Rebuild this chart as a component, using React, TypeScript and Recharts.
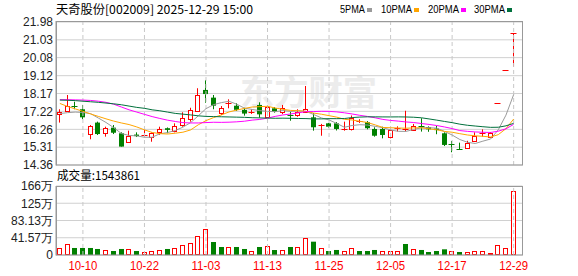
import { ComposedChart, Bar, Line, XAxis, YAxis, CartesianGrid, ReferenceLine } from 'recharts'

const dates = [
  '09-29', '09-30', '10-09', '10-10', '10-13', '10-14', '10-15', '10-16', '10-17', '10-20',
  '10-21', '10-22', '10-23', '10-24', '10-27', '10-28', '10-29', '10-30', '10-31', '11-03',
  '11-04', '11-05', '11-06', '11-07', '11-10', '11-11', '11-12', '11-13', '11-14', '11-17',
  '11-18', '11-19', '11-20', '11-21', '11-24', '11-25', '11-26', '11-27', '11-28', '12-01',
  '12-02', '12-03', '12-04', '12-05', '12-08', '12-09', '12-10', '12-11', '12-12', '12-15',
  '12-16', '12-17', '12-18', '12-19', '12-22', '12-23', '12-24', '12-25', '12-26', '12-29',
]

const opens = [
  17.06, 17.25, 17.52, 17.33, 16.01, 16.62, 16.05, 16.35, 16.05, 15.6,
  15.98, 15.9, 15.87, 16.11, 16.32, 16.19, 16.47, 16.8, 17.24, 18.36,
  17.95, 17.12, 17.62, 17.52, 17.3, 17.14, 17.56, 16.94, 17.38, 17.17,
  17.0, 17.03, 17.2, 16.9, 16.48, 16.58, 16.58, 16.26, 16.28, 16.66,
  16.64, 16.28, 16.28, 15.87, 16.3, 16.28, 16.25, 16.45, 16.38, 16.3,
  16.05, 15.5, 15.2, 15.25, 15.66, 16.0, 15.87, 17.66, 19.43, 21.37,
]
const highs = [
  17.33, 18.09, 17.73, 17.56, 16.49, 16.67, 16.4, 16.49, 16.1, 16.19,
  16.1, 16.23, 16.1, 16.4, 16.36, 16.58, 17.17, 17.41, 18.45, 18.89,
  18.09, 17.5, 17.86, 17.65, 17.41, 17.33, 17.7, 17.52, 17.45, 17.56,
  17.2, 17.33, 18.57, 17.12, 16.55, 16.6, 16.65, 16.67, 17.0, 16.8,
  16.7, 16.37, 16.4, 16.33, 16.42, 17.25, 16.55, 16.85, 16.42, 16.45,
  16.1, 15.64, 15.55, 15.65, 16.1, 16.26, 16.12, 17.66, 19.43, 21.37,
]
const lows = [
  16.62, 17.2, 17.33, 16.8, 15.73, 15.96, 15.87, 16.01, 15.34, 15.6,
  15.85, 15.84, 15.6, 15.97, 16.05, 16.1, 16.4, 16.67, 17.24, 17.68,
  17.33, 17.02, 17.38, 17.24, 16.99, 17.08, 16.88, 16.88, 17.15, 17.07,
  16.72, 16.93, 17.2, 16.19, 15.92, 16.35, 16.2, 16.19, 16.2, 16.6,
  16.26, 15.87, 15.78, 15.78, 16.15, 16.15, 16.2, 16.14, 16.13, 16.0,
  15.37, 15.04, 15.2, 15.25, 15.66, 15.87, 15.85, 17.66, 19.43, 19.6,
]
const closes = [
  17.17, 17.5, 17.47, 16.9, 16.44, 16.01, 16.32, 16.08, 15.34, 15.92,
  15.9, 15.95, 16.08, 16.28, 16.23, 16.44, 16.85, 17.29, 18.09, 18.14,
  17.52, 17.38, 17.65, 17.3, 17.1, 17.17, 17.06, 17.47, 17.2, 17.41,
  16.95, 17.2, 17.33, 16.37, 16.5, 16.4, 16.28, 16.3, 16.85, 16.7,
  16.32, 15.92, 15.96, 16.23, 16.34, 16.3, 16.44, 16.4, 16.26, 16.22,
  15.43, 15.48, 15.2, 15.52, 15.9, 16.05, 16.05, 17.66, 19.43, 21.37,
]
// 成交量, 万股
const volumes = [
  16.9, 25.8, 16.9, 16.9, 16.9, 14.5, 11.3, 9.6, 14.5, 13.3,
  9.6, 6.4, 9.6, 11.3, 14.5, 16.0, 23.3, 28.9, 45.8, 61.9,
  31.3, 19.3, 18.5, 19.3, 14.5, 9.6, 19.3, 20.9, 12.0, 11.3,
  19.3, 19.3, 40.2, 32.1, 16.1, 9.6, 12.1, 8.8, 16.1, 9.6,
  9.6, 12.1, 8.8, 8.8, 8.8, 26.5, 13.7, 12.1, 7.2, 9.6,
  13.7, 8.8, 7.2, 6.4, 8.8, 8.8, 4.8, 23.3, 16.1, 154.3861,
]

// MA values for the first days, whose history is off screen
const ma5Head = [17.1, 17.15, 17.18, 17.16]
const ma10Head = [17.64, 17.48, 17.35, 17.22, 17.08, 16.95, 16.82, 16.7, 16.6]
const ma20Head = [
  17.84, 17.84, 17.83, 17.82, 17.8, 17.76, 17.7, 17.6, 17.45, 17.3,
  17.18, 17.06, 16.94, 16.84, 16.75, 16.68, 16.62, 16.6, 16.6,
]
const ma30Head = [
  17.82, 17.81, 17.79, 17.76, 17.73, 17.7, 17.66, 17.62, 17.57, 17.5,
  17.43, 17.38, 17.3, 17.25, 17.18, 17.11, 17.07, 17.03, 16.98, 16.95,
  16.94, 16.93, 16.92, 16.91, 16.9, 16.88, 16.87, 16.86, 16.85,
]

const labelDates = ['10-10', '10-22', '11-03', '11-13', '11-25', '12-05', '12-17', '12-29']
const priceTicks = [14.36, 15.31, 16.26, 17.22, 18.17, 19.12, 20.08, 21.03, 21.98]
const volTicks = [0, 41.57, 83.13, 124.7, 166.26]
const volTickLabels = ['0', '41.57万', '83.13万', '125万', '166万']

const RED = '#ff0000'
const GREEN = '#008000'
const MA_LINES = [
  { key: 'ma5', name: '5PMA', color: '#9a9a9a' },
  { key: 'ma10', name: '10PMA', color: '#ffa500' },
  { key: 'ma20', name: '20PMA', color: '#ff00ff' },
  { key: 'ma30', name: '30PMA', color: '#00703c' },
]

function movingAverage(n: number, head: number[]) {
  return closes.map((_, i) => {
    if (i < n - 1) return head[i]
    const win = closes.slice(i - n + 1, i + 1)
    return win.reduce((a, b) => a + b, 0) / n
  })
}

const ma5 = movingAverage(5, ma5Head)
const ma10 = movingAverage(10, ma10Head)
const ma20 = movingAverage(20, ma20Head)
const ma30 = movingAverage(30, ma30Head)

const data = dates.map((date, i) => ({
  date,
  open: opens[i],
  high: highs[i],
  low: lows[i],
  close: closes[i],
  prevClose: i > 0 ? closes[i - 1] : opens[i],
  range: [lows[i], highs[i]],
  vol: volumes[i],
  ma5: ma5[i],
  ma10: ma10[i],
  ma20: ma20[i],
  ma30: ma30[i],
}))

const FONT = "'Liberation Sans', Arial, sans-serif"
const CJK = "'Noto Sans CJK SC', sans-serif"

function Candle(props: any) {
  const { x, y, width, height, payload } = props
  const { open, close, high, low, prevClose } = payload
  const cx = Math.floor(x + width / 2) + 0.5
  const span = high - low
  const py = (v: number) => (span > 0 ? y + ((high - v) / span) * height : y)
  const up = close > open || (close === open && close >= prevClose)
  const color = up ? RED : GREEN
  const top = py(Math.max(open, close))
  const bot = py(Math.min(open, close))
  const yh = py(high)
  const yl = py(low)

  if (bot - top < 1.5) {
    const ly = Math.round(top) + 0.5
    return (
      <g>
        {span > 0 && <line x1={cx} x2={cx} y1={yh} y2={yl} stroke={color} strokeWidth={1} />}
        <line x1={cx - 3} x2={cx + 3} y1={ly} y2={ly} stroke={color} strokeWidth={1} />
      </g>
    )
  }
  if (up) {
    const t = Math.round(top) + 0.5
    const b = Math.round(bot) + 0.5
    return (
      <g>
        <line x1={cx} x2={cx} y1={yh} y2={t} stroke={color} />
        <line x1={cx} x2={cx} y1={b} y2={yl} stroke={color} />
        <rect x={cx - 2} y={t} width={4} height={b - t} fill="#fff" stroke={color} strokeWidth={1} />
      </g>
    )
  }
  return (
    <g>
      <line x1={cx} x2={cx} y1={yh} y2={yl} stroke={color} />
      <rect x={cx - 2.5} y={top} width={5} height={bot - top} fill={color} />
    </g>
  )
}

function VolBar(props: any) {
  const { x, y, width, height, payload } = props
  const { close, prevClose } = payload
  const cx = Math.floor(x + width / 2) + 0.5
  if (close < prevClose) {
    return <rect x={cx - 2.5} y={y} width={5} height={height} fill={GREEN} />
  }
  if (close === prevClose) {
    return <rect x={cx - 2.5} y={y} width={5} height={height} fill={RED} />
  }
  const t = Math.round(y) + 0.5
  const b = Math.round(y + height) - 0.5
  return <rect x={cx - 2} y={t} width={4} height={Math.max(0, b - t)} fill="#fff" stroke={RED} strokeWidth={1} />
}

function DateTick({ x, y, payload }: any) {
  return (
    <text x={x} y={y + 15} textAnchor="middle" fill={RED} fontSize={12} fontFamily={FONT}
      textLength={29} lengthAdjust="spacingAndGlyphs">
      {payload.value}
    </text>
  )
}

const axisTick = { fontSize: 12, fontFamily: FONT, fill: '#222' }

export default function App() {
  const lastVol = Math.round(volumes[volumes.length - 1] * 10000)
  return (
    <div style={{ position: 'absolute', left: 0, top: 0, width: 578, height: 276, background: '#fff', overflow: 'hidden' }}>
      <svg width={578} height={276} style={{ position: 'absolute', left: 0, top: 0 }}>
        <text x={240} y={105} fontSize={34} fontWeight="bold" fontFamily={CJK} fill="#ececec"
          textLength={137} lengthAdjust="spacingAndGlyphs">东方财富</text>
      </svg>

      <div style={{ position: 'absolute', left: 0, top: 0 }}>
        <ComposedChart width={578} height={176} data={data} margin={{ top: 22, right: 55.5, bottom: 11, left: 0 }}>
          <CartesianGrid vertical={false} stroke="#d0d0d0" />
          <XAxis dataKey="date" hide padding={{ left: 0, right: 5 }} />
          <YAxis domain={[14.36, 21.98]} ticks={priceTicks} width={56} interval={0} allowDataOverflow
            axisLine={false} tickLine={false} tickSize={0} tickMargin={3} tick={axisTick}
            tickFormatter={(v: number) => v.toFixed(2)} />
          {labelDates.map((d) => (
            <ReferenceLine key={d} x={d} stroke="#c8c8c8" strokeDasharray="4 3" />
          ))}
          <Bar dataKey="range" shape={Candle} barSize={5} isAnimationActive={false} />
          {MA_LINES.map((m) => (
            <Line key={m.key} dataKey={m.key} type="linear" stroke={m.color} strokeWidth={1}
              dot={false} activeDot={false} isAnimationActive={false} />
          ))}
        </ComposedChart>
      </div>

      <div style={{ position: 'absolute', left: 0, top: 176 }}>
        <ComposedChart width={578} height={100} data={data} margin={{ top: 10, right: 55.5, bottom: 0, left: 0 }}>
          <CartesianGrid vertical={false} stroke="#d0d0d0" />
          <XAxis dataKey="date" ticks={labelDates} interval={0} height={21} padding={{ left: 0, right: 5 }}
            axisLine={false} tickLine={false} tickSize={0} tickMargin={0} tick={<DateTick />} />
          <YAxis domain={[0, 166.26]} ticks={volTicks} width={56} interval={0} allowDataOverflow
            axisLine={false} tickLine={false} tickSize={0} tickMargin={3} tick={axisTick}
            tickFormatter={(v: number) => volTickLabels[volTicks.indexOf(v)] ?? String(v)} />
          {labelDates.map((d) => (
            <ReferenceLine key={d} x={d} stroke="#c8c8c8" strokeDasharray="4 3" />
          ))}
          <Bar dataKey="vol" shape={VolBar} barSize={5} isAnimationActive={false} />
        </ComposedChart>
      </div>

      <svg width={578} height={276} style={{ position: 'absolute', left: 0, top: 0, pointerEvents: 'none' }}>
        <text x={56} y={14} fontSize={12} fontFamily={CJK} fill="#000" textLength={197} lengthAdjust="spacingAndGlyphs">
          天奇股份[002009] 2025-12-29 15:00
        </text>
        {MA_LINES.map((m, i) => {
          const lx = [340, 381, 428, 474][i]
          const w = i === 0 ? 25 : 31
          return (
            <g key={m.key}>
              <text x={lx} y={13} fontSize={11} fontFamily={FONT} fill="#000" textLength={w} lengthAdjust="spacingAndGlyphs">
                {m.name}
              </text>
              <rect x={lx + w + 2} y={8} width={5} height={4} fill={m.color} />
            </g>
          )
        })}
        <text x={57} y={180} fontSize={12} fontFamily={CJK} fill="#000" textLength={83} lengthAdjust="spacingAndGlyphs">
          成交量:{lastVol}
        </text>
        <rect x={56.5} y={21.5} width={466} height={143.5} fill="none" stroke="#999" />
        <rect x={56.5} y={186.5} width={466} height={68.5} fill="none" stroke="#999" />
        <line x1={56} x2={56} y1={21} y2={165.5} stroke="#999" />
        <line x1={56} x2={56} y1={186} y2={255.5} stroke="#999" />
      </svg>
    </div>
  )
}
